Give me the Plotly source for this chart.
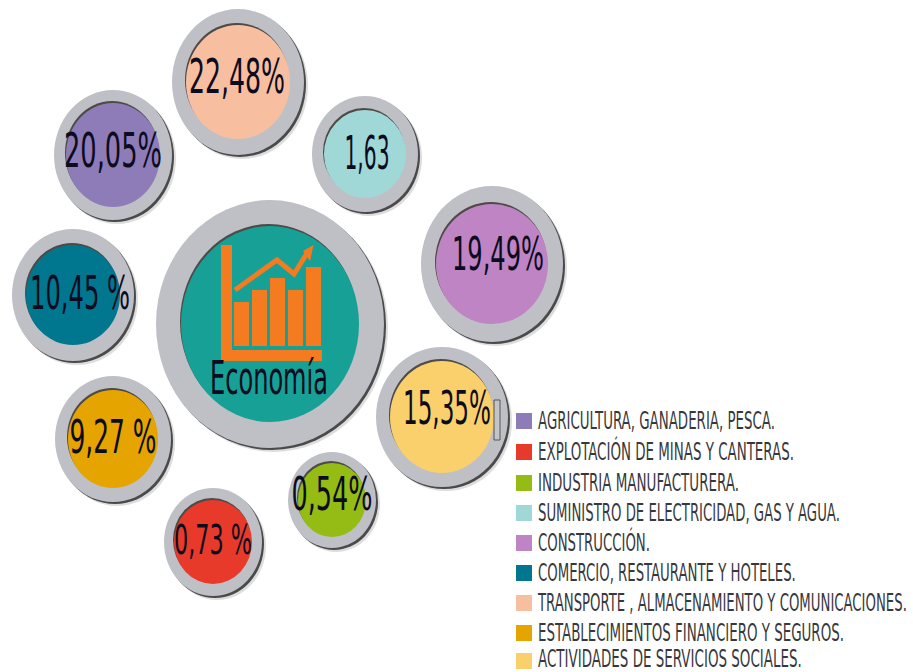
import json
import plotly.graph_objects as go

# ---- data ----
categories = ["AGRICULTURA, GANADERIA, PESCA.", "EXPLOTACIÓN DE MINAS Y CANTERAS.",
              "INDUSTRIA MANUFACTURERA.", "SUMINISTRO DE ELECTRICIDAD, GAS Y AGUA.",
              "CONSTRUCCIÓN.", "COMERCIO, RESTAURANTE Y HOTELES.",
              "TRANSPORTE , ALMACENAMIENTO Y COMUNICACIONES.",
              "ESTABLECIMIENTOS FINANCIERO Y SEGUROS.", "ACTIVIDADES DE SERVICIOS SOCIALES."]
value_labels = ["20,05%", "0,73 %", "0,54%", "1,63", "19,49%", "10,45 %", "22,48%", "9,27 %", "15,35%"]
center_title = "Economía"
icon_bars = [44, 56, 68, 56, 79]
icon_trend = [290, 260, 274, 250]

# ---- styles and placement (page pixels) ----
colors = ["#8E7CB8", "#E83A2A", "#95BC14", "#A0D8D8", "#BE84C4", "#00778F", "#F7BFA0", "#E5A400", "#FAD06C"]
# centre x, centre y, outer rx, outer ry, inner rx, inner ry
discs = [(113, 155, 59, 65, 47, 52), (213, 542, 49, 54, 39, 42), (332, 500, 44, 48, 34, 37),
         (365, 154, 53, 58, 41, 44), (492, 264, 71, 78, 56, 60), (73, 295, 61, 66, 47, 50),
         (238, 82, 66, 73, 52, 57), (113, 439, 58, 63, 45, 49), (442, 417, 66, 70, 52, 56)]
label_x = [113, 213, 332, 367, 498, 80, 237, 113, 447]
label_y = [155, 544, 499, 158, 259, 298, 81, 442, 413]
label_w = [98, 78, 81, 45, 92, 100, 96, 87, 88]
label_fs = [48, 40, 46, 46, 46, 46, 48, 46, 46]
row_y = [421, 452, 483, 513, 543, 573, 603, 633, 661]
row_text_y = [423, 454, 485, 515, 545, 575, 605, 635, 661]
row_w = [237, 256, 201, 302, 112, 258, 369, 306, 264]
GREY, INK, ORANGE, FONT = "#BFC0C6", "#0C0C1E", "#F47B20", "Liberation Sans Narrow, DejaVu Sans Condensed, sans-serif"


def ell(cx, cy, rx, ry, fill, dx=0, dy=0, opacity=1):
    return dict(type="circle", xref="x", yref="y", layer="below", x0=cx - rx + dx, x1=cx + rx + dx,
                y0=cy - ry + dy, y1=cy + ry + dy, fillcolor=fill, opacity=opacity, line_width=0)


def disc(cx, cy, orx, ory, irx, iry, color):
    return [ell(cx, cy, orx, ory, "#777777", 4, 4, 0.25),
            ell(cx, cy, orx, ory, "#4A4A4A", 2, 2),
            ell(cx, cy, orx, ory, GREY),
            ell(cx, cy, irx, iry, "#4E4A48", -1, -2),
            ell(cx, cy, irx, iry, color)]


shapes = []
for d, c in zip(discs, colors):
    shapes += disc(*d, c)
shapes += disc(270, 324, 114, 124, 89, 98, "#16A096")
shapes += [
    dict(type="rect", layer="below", x0=221, x1=232, y0=245, y1=361, fillcolor=ORANGE, line_width=0),
    dict(type="rect", layer="below", x0=221, x1=322, y0=350, y1=361, fillcolor=ORANGE, line_width=0),
    dict(type="path", layer="above", path="M313.5 245 L303 251 L310 261 Z", fillcolor=ORANGE, line_width=0),
    dict(type="rect", layer="below", x0=494, x1=500, y0=400, y1=440, fillcolor="#C4C4C8",
         line=dict(color="#555555", width=1)),
]

fig = go.Figure()
# icon: small bar chart and trend line inside the central disc
fig.add_bar(x=[241.5, 259.5, 277.5, 295.5, 313.5], y=[-v for v in icon_bars], base=346, width=15,
            marker=dict(color=ORANGE, line_width=0), hoverinfo="skip", showlegend=False)
fig.add_scatter(x=[235, 277, 294, 309], y=icon_trend, mode="lines", line=dict(color=ORANGE, width=5),
                hoverinfo="skip", showlegend=False)
# percentage labels
for i, lab in enumerate(value_labels):
    fig.add_scatter(x=[label_x[i]], y=[label_y[i]], mode="text", text=[lab], textposition="middle center",
                    textfont=dict(family=FONT, size=label_fs[i], color=INK), showlegend=False, name=categories[i])
fig.add_scatter(x=[269], y=[383], mode="text", text=[center_title], textposition="middle center",
                textfont=dict(family=FONT, size=46, color=INK), showlegend=False)
# key
for i, cat in enumerate(categories):
    fig.add_scatter(x=[524], y=[row_y[i]], mode="markers",
                    marker=dict(symbol="square", size=16, color=colors[i]), name=cat, showlegend=False)
    fig.add_scatter(x=[538], y=[row_text_y[i]], mode="text", text=[cat], textposition="middle right",
                    textfont=dict(family=FONT, size=24, color="#38383C"), showlegend=False)

fig.update_layout(width=913, height=672, margin=dict(l=0, r=0, t=0, b=0), autosize=False,
                  paper_bgcolor="white", plot_bgcolor="white", shapes=shapes, bargap=0)
fig.update_xaxes(range=[0, 913], visible=False, fixedrange=True)
fig.update_yaxes(range=[672, 0], visible=False, fixedrange=True)

widths = dict(zip(value_labels, label_w))
widths.update(dict(zip(categories, row_w)))
widths[center_title] = 118
post = """
document.body.style.margin = '0';
document.body.style.overflow = 'hidden';
var W = %s;
document.querySelectorAll('.textpoint text').forEach(function (t) {
  var w = W[t.textContent];
  if (!w) return;
  var x = parseFloat(t.getAttribute('x')), s = w / t.getComputedTextLength();
  t.setAttribute('transform', 'translate(' + x + ' 0) scale(' + s + ' 1) translate(' + (-x) + ' 0)');
});
""" % json.dumps(widths, ensure_ascii=False)
fig.write_html("out.html", post_script=post, config={"displayModeBar": False})
